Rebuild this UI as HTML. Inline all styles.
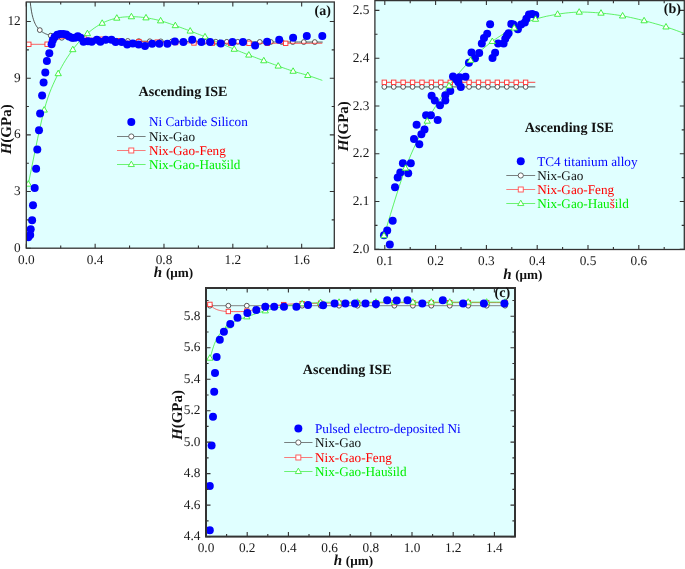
<!DOCTYPE html><html><head><meta charset="utf-8"><style>
html,body{margin:0;padding:0;background:#fff;width:685px;height:569px;overflow:hidden}
svg{display:block;-webkit-font-smoothing:antialiased;will-change:transform}
text{text-rendering:geometricPrecision}
text{font-family:'Liberation Serif', serif}
.tl{font-size:13.3px;fill:#1a1a1a}
.lg{font-size:13.2px}
.ti{font-size:14.1px;font-weight:bold;fill:#111}
.ax{font-size:15px;font-weight:bold;fill:#111}
</style></head><body>
<svg width="685" height="569" viewBox="0 0 685 569">
<defs>
<clipPath id="clipa"><rect x="26.3" y="2" width="308" height="246.2"/></clipPath>
<clipPath id="clipb"><rect x="374.9" y="0.6" width="309.4" height="248.9"/></clipPath>
<clipPath id="clipc"><rect x="206" y="288" width="309" height="248.6"/></clipPath>
</defs>
<rect x="26.3" y="2" width="308" height="246.2" fill="#E0FFFF"/>
<g clip-path="url(#clipa)">
<polyline points="29.4,-7.67 30.09,0.72 30.77,6.7 31.46,11.18 32.15,14.66 32.84,17.45 33.53,19.73 34.22,21.64 34.91,23.25 35.59,24.63 36.28,25.83 36.97,26.88 37.66,27.8 38.35,28.62 39.04,29.36 39.72,30.02 40.41,30.62 41.1,31.17 41.79,31.67 42.48,32.12 43.17,32.55 43.85,32.93 44.54,33.29 45.23,33.63 45.92,33.94 46.61,34.23 47.3,34.5 47.98,34.76 48.67,34.99 49.36,35.22 50.05,35.43 50.74,35.63 51.43,35.82 52.12,36 52.8,36.17 53.49,36.34 54.18,36.49 54.87,36.64 55.56,36.78 56.25,36.91 56.93,37.04 57.62,37.16 58.31,37.28 59,37.39 59.69,37.5 60.38,37.6 61.06,37.7 64.51,38.14 67.95,38.52 71.39,38.83 74.83,39.1 78.27,39.34 81.72,39.54 85.16,39.72 88.6,39.89 92.04,40.03 95.48,40.16 98.93,40.28 102.37,40.39 105.81,40.49 109.25,40.58 112.69,40.66 116.14,40.74 119.58,40.81 123.02,40.87 126.46,40.94 129.9,40.99 133.35,41.05 136.79,41.1 140.23,41.15 143.67,41.19 147.11,41.23 150.56,41.27 154,41.31 157.44,41.35 160.88,41.38 164.32,41.41 167.77,41.44 171.21,41.47 174.65,41.5 178.09,41.53 181.53,41.55 184.98,41.58 188.42,41.6 191.86,41.62 195.3,41.64 198.74,41.66 202.19,41.68 205.63,41.7 209.07,41.72 212.51,41.74 215.95,41.76 219.4,41.77 222.84,41.79 226.28,41.8 229.72,41.82 233.16,41.83 236.61,41.85 240.05,41.86 243.49,41.87 246.93,41.88 250.37,41.9 253.82,41.91 257.26,41.92 260.7,41.93 264.14,41.94 267.58,41.95 271.03,41.96 274.47,41.97 277.91,41.98 281.35,41.99 284.79,42 288.24,42.01 291.68,42.02 295.12,42.03 298.56,42.03 302,42.04 305.45,42.05 308.89,42.06 312.33,42.07 315.77,42.07 319.21,42.08 322.66,42.09" fill="none" stroke="#444" stroke-width="0.9"/>
<circle cx="39.8" cy="30.09" r="2.4" fill="#fff" stroke="#444" stroke-width="0.9"/>
<circle cx="50.8" cy="35.65" r="2.4" fill="#fff" stroke="#444" stroke-width="0.9"/>
<circle cx="61.8" cy="37.8" r="2.4" fill="#fff" stroke="#444" stroke-width="0.9"/>
<circle cx="72.8" cy="38.95" r="2.4" fill="#fff" stroke="#444" stroke-width="0.9"/>
<circle cx="83.8" cy="39.65" r="2.4" fill="#fff" stroke="#444" stroke-width="0.9"/>
<circle cx="94.8" cy="40.14" r="2.4" fill="#fff" stroke="#444" stroke-width="0.9"/>
<circle cx="105.8" cy="40.49" r="2.4" fill="#fff" stroke="#444" stroke-width="0.9"/>
<circle cx="116.8" cy="40.75" r="2.4" fill="#fff" stroke="#444" stroke-width="0.9"/>
<circle cx="127.8" cy="40.96" r="2.4" fill="#fff" stroke="#444" stroke-width="0.9"/>
<circle cx="138.8" cy="41.13" r="2.4" fill="#fff" stroke="#444" stroke-width="0.9"/>
<circle cx="149.8" cy="41.26" r="2.4" fill="#fff" stroke="#444" stroke-width="0.9"/>
<circle cx="160.8" cy="41.38" r="2.4" fill="#fff" stroke="#444" stroke-width="0.9"/>
<circle cx="171.8" cy="41.48" r="2.4" fill="#fff" stroke="#444" stroke-width="0.9"/>
<circle cx="182.8" cy="41.56" r="2.4" fill="#fff" stroke="#444" stroke-width="0.9"/>
<circle cx="193.8" cy="41.63" r="2.4" fill="#fff" stroke="#444" stroke-width="0.9"/>
<circle cx="204.8" cy="41.7" r="2.4" fill="#fff" stroke="#444" stroke-width="0.9"/>
<circle cx="215.8" cy="41.75" r="2.4" fill="#fff" stroke="#444" stroke-width="0.9"/>
<circle cx="226.8" cy="41.81" r="2.4" fill="#fff" stroke="#444" stroke-width="0.9"/>
<circle cx="237.8" cy="41.85" r="2.4" fill="#fff" stroke="#444" stroke-width="0.9"/>
<circle cx="248.8" cy="41.89" r="2.4" fill="#fff" stroke="#444" stroke-width="0.9"/>
<circle cx="259.8" cy="41.93" r="2.4" fill="#fff" stroke="#444" stroke-width="0.9"/>
<circle cx="270.8" cy="41.96" r="2.4" fill="#fff" stroke="#444" stroke-width="0.9"/>
<circle cx="281.8" cy="41.99" r="2.4" fill="#fff" stroke="#444" stroke-width="0.9"/>
<circle cx="292.8" cy="42.02" r="2.4" fill="#fff" stroke="#444" stroke-width="0.9"/>
<circle cx="303.8" cy="42.05" r="2.4" fill="#fff" stroke="#444" stroke-width="0.9"/>
<circle cx="314.8" cy="42.07" r="2.4" fill="#fff" stroke="#444" stroke-width="0.9"/>
<polyline points="28.8,44.3 46.9,44.3 46.9,44.3 47.33,44.15 47.91,43.96 48.59,43.73 49.36,43.47 50.16,43.19 50.98,42.9 51.77,42.6 52.5,42.3 53.19,41.99 53.88,41.64 54.57,41.27 55.26,40.9 55.94,40.53 56.63,40.19 57.31,39.87 58,39.6 58.65,39.38 59.23,39.19 59.8,39.02 60.38,38.88 61,38.75 61.7,38.64 62.53,38.52 63.5,38.4 64.65,38.27 65.96,38.15 67.4,38.03 68.91,37.92 70.46,37.82 72.02,37.73 73.55,37.65 75,37.6 76.38,37.56 77.71,37.53 79.03,37.52 80.34,37.52 81.68,37.54 83.05,37.57 84.48,37.62 86,37.7 87.6,37.8 89.27,37.94 90.99,38.1 92.75,38.27 94.54,38.45 96.36,38.64 98.18,38.82 100,39 101.83,39.17 103.68,39.35 105.55,39.54 107.44,39.72 109.33,39.91 111.23,40.08 113.12,40.25 115,40.4 116.88,40.54 118.75,40.67 120.62,40.79 122.5,40.91 124.38,41.01 126.25,41.11 128.12,41.21 130,41.3 131.88,41.38 133.75,41.46 135.62,41.52 137.5,41.58 139.38,41.64 141.25,41.69 143.12,41.75 145,41.8 146.77,41.85 148.4,41.9 149.97,41.94 151.56,41.99 153.28,42.03 155.2,42.08 157.41,42.14 160,42.2 163.03,42.28 166.45,42.36 170.15,42.46 174.06,42.56 178.09,42.65 182.15,42.75 186.15,42.83 190,42.9 193.68,42.96 197.27,43.01 200.81,43.05 204.38,43.09 208.02,43.12 211.8,43.15 215.77,43.17 220,43.2 224.37,43.22 228.77,43.24 233.29,43.26 237.98,43.27 242.93,43.28 248.2,43.29 253.86,43.29 260,43.3 267.15,43.3 275.47,43.31 284.47,43.31 293.65,43.31 302.52,43.3 310.58,43.3 317.34,43.3 322.3,43.3" fill="none" stroke="#FF3030" stroke-width="0.75"/>
<rect x="26.6" y="42.1" width="4.4" height="4.4" fill="#fff" stroke="#FF3030" stroke-width="0.9"/>
<rect x="44.95" y="42.01" width="4.4" height="4.4" fill="#fff" stroke="#FF3030" stroke-width="0.9"/>
<rect x="81.65" y="35.4" width="4.4" height="4.4" fill="#fff" stroke="#FF3030" stroke-width="0.9"/>
<rect x="100" y="37.01" width="4.4" height="4.4" fill="#fff" stroke="#FF3030" stroke-width="0.9"/>
<rect x="118.35" y="38.59" width="4.4" height="4.4" fill="#fff" stroke="#FF3030" stroke-width="0.9"/>
<rect x="136.7" y="39.42" width="4.4" height="4.4" fill="#fff" stroke="#FF3030" stroke-width="0.9"/>
<rect x="155.05" y="39.93" width="4.4" height="4.4" fill="#fff" stroke="#FF3030" stroke-width="0.9"/>
<rect x="173.4" y="40.39" width="4.4" height="4.4" fill="#fff" stroke="#FF3030" stroke-width="0.9"/>
<rect x="191.75" y="40.76" width="4.4" height="4.4" fill="#fff" stroke="#FF3030" stroke-width="0.9"/>
<rect x="210.1" y="40.95" width="4.4" height="4.4" fill="#fff" stroke="#FF3030" stroke-width="0.9"/>
<rect x="228.45" y="41.05" width="4.4" height="4.4" fill="#fff" stroke="#FF3030" stroke-width="0.9"/>
<rect x="246.8" y="41.09" width="4.4" height="4.4" fill="#fff" stroke="#FF3030" stroke-width="0.9"/>
<rect x="265.15" y="41.1" width="4.4" height="4.4" fill="#fff" stroke="#FF3030" stroke-width="0.9"/>
<rect x="283.5" y="41.11" width="4.4" height="4.4" fill="#fff" stroke="#FF3030" stroke-width="0.9"/>
<polyline points="28.3,184.1 29.54,178.13 31.2,169.9 33.18,160.08 35.38,149.32 37.68,138.28 39.99,127.61 42.19,117.97 44.2,110 46.04,103.56 47.82,97.96 49.56,93.04 51.28,88.67 52.99,84.69 54.7,80.94 56.43,77.3 58.2,73.6 60,69.95 61.81,66.54 63.63,63.34 65.46,60.32 67.3,57.47 69.14,54.75 70.97,52.13 72.8,49.6 74.62,47.18 76.45,44.91 78.27,42.77 80.09,40.75 81.91,38.84 83.74,37.02 85.57,35.28 87.4,33.6 89.24,32 91.09,30.48 92.94,29.06 94.8,27.72 96.66,26.47 98.51,25.3 100.36,24.21 102.2,23.2 104.03,22.28 105.86,21.47 107.69,20.74 109.51,20.09 111.33,19.51 113.15,18.99 114.98,18.52 116.8,18.1 118.62,17.73 120.45,17.43 122.27,17.19 124.1,17.01 125.92,16.88 127.75,16.79 129.57,16.73 131.4,16.7 133.22,16.7 135.05,16.75 136.88,16.85 138.7,16.97 140.53,17.14 142.35,17.33 144.18,17.55 146,17.8 147.82,18.07 149.65,18.37 151.47,18.71 153.29,19.07 155.12,19.46 156.94,19.88 158.77,20.33 160.6,20.8 162.43,21.31 164.26,21.86 166.1,22.44 167.93,23.05 169.77,23.68 171.61,24.32 173.45,24.96 175.3,25.6 177.15,26.24 179.01,26.9 180.88,27.56 182.74,28.24 184.61,28.92 186.48,29.61 188.34,30.3 190.2,31 192.06,31.7 193.91,32.41 195.77,33.13 197.62,33.85 199.47,34.58 201.32,35.31 203.16,36.05 205,36.8 206.83,37.56 208.66,38.32 210.49,39.1 212.31,39.88 214.13,40.66 215.95,41.44 217.78,42.22 219.6,43 221.42,43.78 223.25,44.56 225.07,45.34 226.9,46.13 228.72,46.9 230.55,47.68 232.38,48.44 234.2,49.2 236.02,49.94 237.84,50.68 239.66,51.41 241.47,52.13 243.3,52.85 245.12,53.57 246.96,54.28 248.8,55 250.66,55.72 252.54,56.44 254.42,57.16 256.31,57.88 258.2,58.6 260.08,59.31 261.95,60.01 263.8,60.7 265.63,61.38 267.43,62.06 269.22,62.72 271.01,63.38 272.79,64.04 274.58,64.69 276.38,65.35 278.2,66 280.04,66.66 281.89,67.33 283.76,68 285.63,68.67 287.51,69.33 289.38,69.97 291.24,70.6 293.1,71.2 294.95,71.77 296.79,72.3 298.64,72.81 300.48,73.31 302.31,73.81 304.14,74.32 305.97,74.84 307.8,75.4 309.72,76.02 311.78,76.71 313.89,77.44 315.97,78.16 317.93,78.86 319.7,79.48 321.18,80.01 322.3,80.4" fill="none" stroke="#33EE33" stroke-width="0.75"/>
<path d="M28.3 180.7L31.45 186.18L25.15 186.18Z" fill="#fff" stroke="#33EE33" stroke-width="0.9"/>
<path d="M44.2 106.6L47.35 112.08L41.05 112.08Z" fill="#fff" stroke="#33EE33" stroke-width="0.9"/>
<path d="M58.2 70.2L61.35 75.68L55.05 75.68Z" fill="#fff" stroke="#33EE33" stroke-width="0.9"/>
<path d="M72.8 46.2L75.95 51.68L69.65 51.68Z" fill="#fff" stroke="#33EE33" stroke-width="0.9"/>
<path d="M87.4 30.2L90.55 35.68L84.25 35.68Z" fill="#fff" stroke="#33EE33" stroke-width="0.9"/>
<path d="M102.2 19.8L105.35 25.28L99.05 25.28Z" fill="#fff" stroke="#33EE33" stroke-width="0.9"/>
<path d="M116.8 14.7L119.95 20.18L113.65 20.18Z" fill="#fff" stroke="#33EE33" stroke-width="0.9"/>
<path d="M131.4 13.3L134.55 18.78L128.25 18.78Z" fill="#fff" stroke="#33EE33" stroke-width="0.9"/>
<path d="M146 14.4L149.15 19.88L142.85 19.88Z" fill="#fff" stroke="#33EE33" stroke-width="0.9"/>
<path d="M160.6 17.4L163.75 22.88L157.45 22.88Z" fill="#fff" stroke="#33EE33" stroke-width="0.9"/>
<path d="M175.3 22.2L178.45 27.68L172.15 27.68Z" fill="#fff" stroke="#33EE33" stroke-width="0.9"/>
<path d="M190.2 27.6L193.35 33.08L187.05 33.08Z" fill="#fff" stroke="#33EE33" stroke-width="0.9"/>
<path d="M205 33.4L208.15 38.88L201.85 38.88Z" fill="#fff" stroke="#33EE33" stroke-width="0.9"/>
<path d="M219.6 39.6L222.75 45.08L216.45 45.08Z" fill="#fff" stroke="#33EE33" stroke-width="0.9"/>
<path d="M234.2 45.8L237.35 51.28L231.05 51.28Z" fill="#fff" stroke="#33EE33" stroke-width="0.9"/>
<path d="M248.8 51.6L251.95 57.08L245.65 57.08Z" fill="#fff" stroke="#33EE33" stroke-width="0.9"/>
<path d="M263.8 57.3L266.95 62.78L260.65 62.78Z" fill="#fff" stroke="#33EE33" stroke-width="0.9"/>
<path d="M278.2 62.6L281.35 68.08L275.05 68.08Z" fill="#fff" stroke="#33EE33" stroke-width="0.9"/>
<path d="M293.1 67.8L296.25 73.28L289.95 73.28Z" fill="#fff" stroke="#33EE33" stroke-width="0.9"/>
<path d="M307.8 72L310.95 77.48L304.65 77.48Z" fill="#fff" stroke="#33EE33" stroke-width="0.9"/>
<circle cx="28.3" cy="237.3" r="4.0" fill="#0000FF"/>
<circle cx="30.2" cy="235.1" r="4.0" fill="#0000FF"/>
<circle cx="30.7" cy="229.2" r="4.0" fill="#0000FF"/>
<circle cx="32.1" cy="220.2" r="4.0" fill="#0000FF"/>
<circle cx="33" cy="205.2" r="4.0" fill="#0000FF"/>
<circle cx="34.7" cy="187.9" r="4.0" fill="#0000FF"/>
<circle cx="36.1" cy="168.7" r="4.0" fill="#0000FF"/>
<circle cx="37.3" cy="149.4" r="4.0" fill="#0000FF"/>
<circle cx="39" cy="130.2" r="4.0" fill="#0000FF"/>
<circle cx="40.1" cy="113.4" r="4.0" fill="#0000FF"/>
<circle cx="42.1" cy="95.4" r="4.0" fill="#0000FF"/>
<circle cx="43.6" cy="82.5" r="4.0" fill="#0000FF"/>
<circle cx="45.3" cy="72.6" r="4.0" fill="#0000FF"/>
<circle cx="46.9" cy="61" r="4.0" fill="#0000FF"/>
<circle cx="49.3" cy="53.2" r="4.0" fill="#0000FF"/>
<circle cx="51.6" cy="44.2" r="4.0" fill="#0000FF"/>
<circle cx="52.8" cy="40.3" r="4.0" fill="#0000FF"/>
<circle cx="54.6" cy="37" r="4.0" fill="#0000FF"/>
<circle cx="57.3" cy="34.8" r="4.0" fill="#0000FF"/>
<circle cx="60.2" cy="34" r="4.0" fill="#0000FF"/>
<circle cx="63.2" cy="34" r="4.0" fill="#0000FF"/>
<circle cx="66.2" cy="34.5" r="4.0" fill="#0000FF"/>
<circle cx="69" cy="36.5" r="4.0" fill="#0000FF"/>
<circle cx="72" cy="37.8" r="4.0" fill="#0000FF"/>
<circle cx="75" cy="37.8" r="4.0" fill="#0000FF"/>
<circle cx="77.8" cy="36.3" r="4.0" fill="#0000FF"/>
<circle cx="80.5" cy="37.8" r="4.0" fill="#0000FF"/>
<circle cx="83.5" cy="41.7" r="4.0" fill="#0000FF"/>
<circle cx="88" cy="41.3" r="4.0" fill="#0000FF"/>
<circle cx="91.7" cy="41.7" r="4.0" fill="#0000FF"/>
<circle cx="96.9" cy="39.8" r="4.0" fill="#0000FF"/>
<circle cx="100.4" cy="41.7" r="4.0" fill="#0000FF"/>
<circle cx="105.7" cy="39.8" r="4.0" fill="#0000FF"/>
<circle cx="111.5" cy="39.8" r="4.0" fill="#0000FF"/>
<circle cx="115.6" cy="42" r="4.0" fill="#0000FF"/>
<circle cx="121.8" cy="42" r="4.0" fill="#0000FF"/>
<circle cx="127.2" cy="44.4" r="4.0" fill="#0000FF"/>
<circle cx="132.8" cy="43.6" r="4.0" fill="#0000FF"/>
<circle cx="138.6" cy="44.4" r="4.0" fill="#0000FF"/>
<circle cx="145" cy="46" r="4.0" fill="#0000FF"/>
<circle cx="152.1" cy="43.8" r="4.0" fill="#0000FF"/>
<circle cx="159.3" cy="43.8" r="4.0" fill="#0000FF"/>
<circle cx="167.4" cy="43.8" r="4.0" fill="#0000FF"/>
<circle cx="174.9" cy="41.5" r="4.0" fill="#0000FF"/>
<circle cx="183.4" cy="41.9" r="4.0" fill="#0000FF"/>
<circle cx="192.2" cy="39.7" r="4.0" fill="#0000FF"/>
<circle cx="201.4" cy="41.9" r="4.0" fill="#0000FF"/>
<circle cx="210.1" cy="41.9" r="4.0" fill="#0000FF"/>
<circle cx="220.8" cy="43.6" r="4.0" fill="#0000FF"/>
<circle cx="232.5" cy="41.9" r="4.0" fill="#0000FF"/>
<circle cx="243" cy="41.9" r="4.0" fill="#0000FF"/>
<circle cx="255.1" cy="45.5" r="4.0" fill="#0000FF"/>
<circle cx="267.1" cy="41.7" r="4.0" fill="#0000FF"/>
<circle cx="279.2" cy="39.7" r="4.0" fill="#0000FF"/>
<circle cx="293.1" cy="37.7" r="4.0" fill="#0000FF"/>
<circle cx="306.8" cy="36" r="4.0" fill="#0000FF"/>
<circle cx="322.3" cy="36" r="4.0" fill="#0000FF"/>
</g>
<path d="M26.3 248.2V243.7M26.3 2V6.5M95.14 248.2V243.7M95.14 2V6.5M163.98 248.2V243.7M163.98 2V6.5M232.82 248.2V243.7M232.82 2V6.5M301.66 248.2V243.7M301.66 2V6.5M60.72 248.2V245.6M60.72 2V4.6M129.56 248.2V245.6M129.56 2V4.6M198.4 248.2V245.6M198.4 2V4.6M267.24 248.2V245.6M267.24 2V4.6M26.3 248.2H30.8M334.3 248.2H329.8M26.3 191.53H30.8M334.3 191.53H329.8M26.3 134.86H30.8M334.3 134.86H329.8M26.3 78.19H30.8M334.3 78.19H329.8M26.3 21.52H30.8M334.3 21.52H329.8M26.3 219.86H28.9M334.3 219.86H331.7M26.3 163.19H28.9M334.3 163.19H331.7M26.3 106.52H28.9M334.3 106.52H331.7M26.3 49.85H28.9M334.3 49.85H331.7" stroke="#333" stroke-width="1.1" fill="none"/>
<rect x="26.3" y="2" width="308" height="246.2" fill="none" stroke="#333" stroke-width="1.3"/>
<text x="26.3" y="263.7" text-anchor="middle" class="tl">0.0</text>
<text x="95.14" y="263.7" text-anchor="middle" class="tl">0.4</text>
<text x="163.98" y="263.7" text-anchor="middle" class="tl">0.8</text>
<text x="232.82" y="263.7" text-anchor="middle" class="tl">1.2</text>
<text x="301.66" y="263.7" text-anchor="middle" class="tl">1.6</text>
<text x="20.7" y="251.8" text-anchor="end" class="tl">0</text>
<text x="20.7" y="195.13" text-anchor="end" class="tl">3</text>
<text x="20.7" y="138.46" text-anchor="end" class="tl">6</text>
<text x="20.7" y="81.79" text-anchor="end" class="tl">9</text>
<text x="20.7" y="25.12" text-anchor="end" class="tl">12</text>
<text x="183" y="95.7" text-anchor="middle" class="ti">Ascending ISE</text>
<text x="330.8" y="15.2" text-anchor="end" class="ti" style="font-size:14px">(a)</text>
<circle cx="131.3" cy="121.9" r="4" fill="#0000FF"/>
<text x="148.9" y="126.2" class="lg" fill="#0000FF">Ni Carbide Silicon</text>
<polyline points="117,136.5 145.6,136.5" fill="none" stroke="#555" stroke-width="0.75"/>
<circle cx="131.3" cy="136.5" r="2.6" fill="#fff" stroke="#555" stroke-width="0.9"/>
<text x="148.9" y="140.8" class="lg" fill="#111">Nix-Gao</text>
<polyline points="117,150.5 145.6,150.5" fill="none" stroke="#FF5050" stroke-width="0.75"/>
<rect x="128.8" y="148" width="5.0" height="5.0" fill="#fff" stroke="#FF5050" stroke-width="0.9"/>
<text x="148.9" y="154.8" class="lg" fill="#FF0000">Nix-Gao-Feng</text>
<polyline points="117,164.5 145.6,164.5" fill="none" stroke="#44EE44" stroke-width="0.75"/>
<path d="M131.3 161.16L134.4 166.55L128.2 166.55Z" fill="#fff" stroke="#44EE44" stroke-width="0.9"/>
<text x="148.9" y="168.8" class="lg" fill="#00EE00">Nix-Gao-Haušild</text>
<text transform="translate(11.2,129.3) rotate(-90)" text-anchor="middle" class="ax"><tspan font-style="italic">H</tspan>(GPa)</text>
<text x="173.5" y="276.8" text-anchor="middle" class="ax"><tspan font-style="italic">h</tspan><tspan font-size="13.2px" dx="0.4"> (μm)</tspan></text>
<rect x="374.9" y="0.6" width="309.4" height="248.9" fill="#E0FFFF"/>
<g clip-path="url(#clipb)">
<polyline points="384.3,86.9 535.3,86.9" fill="none" stroke="#444" stroke-width="0.9"/>
<circle cx="384.3" cy="86.9" r="2.4" fill="#fff" stroke="#444" stroke-width="0.9"/>
<circle cx="393.72" cy="86.9" r="2.4" fill="#fff" stroke="#444" stroke-width="0.9"/>
<circle cx="403.14" cy="86.9" r="2.4" fill="#fff" stroke="#444" stroke-width="0.9"/>
<circle cx="412.56" cy="86.9" r="2.4" fill="#fff" stroke="#444" stroke-width="0.9"/>
<circle cx="421.98" cy="86.9" r="2.4" fill="#fff" stroke="#444" stroke-width="0.9"/>
<circle cx="431.4" cy="86.9" r="2.4" fill="#fff" stroke="#444" stroke-width="0.9"/>
<circle cx="440.82" cy="86.9" r="2.4" fill="#fff" stroke="#444" stroke-width="0.9"/>
<circle cx="450.24" cy="86.9" r="2.4" fill="#fff" stroke="#444" stroke-width="0.9"/>
<circle cx="459.66" cy="86.9" r="2.4" fill="#fff" stroke="#444" stroke-width="0.9"/>
<circle cx="469.08" cy="86.9" r="2.4" fill="#fff" stroke="#444" stroke-width="0.9"/>
<circle cx="478.5" cy="86.9" r="2.4" fill="#fff" stroke="#444" stroke-width="0.9"/>
<circle cx="487.92" cy="86.9" r="2.4" fill="#fff" stroke="#444" stroke-width="0.9"/>
<circle cx="497.34" cy="86.9" r="2.4" fill="#fff" stroke="#444" stroke-width="0.9"/>
<circle cx="506.76" cy="86.9" r="2.4" fill="#fff" stroke="#444" stroke-width="0.9"/>
<circle cx="516.18" cy="86.9" r="2.4" fill="#fff" stroke="#444" stroke-width="0.9"/>
<circle cx="525.6" cy="86.9" r="2.4" fill="#fff" stroke="#444" stroke-width="0.9"/>
<polyline points="384.3,82.3 535.3,82.3" fill="none" stroke="#FF3030" stroke-width="0.9"/>
<rect x="382.1" y="80.1" width="4.4" height="4.4" fill="#fff" stroke="#FF3030" stroke-width="0.9"/>
<rect x="391.52" y="80.1" width="4.4" height="4.4" fill="#fff" stroke="#FF3030" stroke-width="0.9"/>
<rect x="400.94" y="80.1" width="4.4" height="4.4" fill="#fff" stroke="#FF3030" stroke-width="0.9"/>
<rect x="410.36" y="80.1" width="4.4" height="4.4" fill="#fff" stroke="#FF3030" stroke-width="0.9"/>
<rect x="419.78" y="80.1" width="4.4" height="4.4" fill="#fff" stroke="#FF3030" stroke-width="0.9"/>
<rect x="429.2" y="80.1" width="4.4" height="4.4" fill="#fff" stroke="#FF3030" stroke-width="0.9"/>
<rect x="438.62" y="80.1" width="4.4" height="4.4" fill="#fff" stroke="#FF3030" stroke-width="0.9"/>
<rect x="448.04" y="80.1" width="4.4" height="4.4" fill="#fff" stroke="#FF3030" stroke-width="0.9"/>
<rect x="457.46" y="80.1" width="4.4" height="4.4" fill="#fff" stroke="#FF3030" stroke-width="0.9"/>
<rect x="466.88" y="80.1" width="4.4" height="4.4" fill="#fff" stroke="#FF3030" stroke-width="0.9"/>
<rect x="476.3" y="80.1" width="4.4" height="4.4" fill="#fff" stroke="#FF3030" stroke-width="0.9"/>
<rect x="485.72" y="80.1" width="4.4" height="4.4" fill="#fff" stroke="#FF3030" stroke-width="0.9"/>
<rect x="495.14" y="80.1" width="4.4" height="4.4" fill="#fff" stroke="#FF3030" stroke-width="0.9"/>
<rect x="504.56" y="80.1" width="4.4" height="4.4" fill="#fff" stroke="#FF3030" stroke-width="0.9"/>
<rect x="513.98" y="80.1" width="4.4" height="4.4" fill="#fff" stroke="#FF3030" stroke-width="0.9"/>
<rect x="523.4" y="80.1" width="4.4" height="4.4" fill="#fff" stroke="#FF3030" stroke-width="0.9"/>
<polyline points="384,235.7 385.66,230.35 387.86,223.09 390.48,214.43 393.39,204.89 396.48,194.98 399.61,185.22 402.66,176.12 405.5,168.2 408.2,161.26 410.91,154.71 413.62,148.52 416.33,142.64 419.05,137 421.76,131.57 424.48,126.28 427.2,121.1 429.92,116.06 432.65,111.22 435.38,106.57 438.11,102.1 440.84,97.8 443.56,93.66 446.28,89.66 449,85.8 451.71,82.1 454.41,78.58 457.11,75.23 459.81,72.02 462.5,68.95 465.2,65.98 467.9,63.1 470.6,60.3 473.31,57.58 476.01,54.98 478.72,52.49 481.43,50.09 484.14,47.79 486.86,45.58 489.58,43.45 492.3,41.4 495.03,39.43 497.77,37.56 500.52,35.77 503.28,34.07 506.02,32.45 508.76,30.9 511.49,29.42 514.2,28 516.89,26.65 519.55,25.39 522.2,24.2 524.84,23.07 527.48,22.02 530.13,21.02 532.8,20.09 535.5,19.2 538.23,18.37 540.98,17.61 543.75,16.92 546.53,16.28 549.31,15.7 552.09,15.16 554.86,14.66 557.6,14.2 560.32,13.78 563.03,13.4 565.73,13.06 568.42,12.77 571.11,12.53 573.8,12.34 576.49,12.19 579.2,12.1 581.92,12.06 584.64,12.09 587.37,12.17 590.1,12.29 592.83,12.46 595.56,12.65 598.28,12.87 601,13.1 603.71,13.35 606.42,13.63 609.12,13.93 611.82,14.26 614.52,14.62 617.21,15.02 619.91,15.44 622.6,15.9 625.29,16.39 627.97,16.93 630.65,17.49 633.33,18.09 636.01,18.71 638.7,19.35 641.39,20.02 644.1,20.7 646.84,21.41 649.63,22.14 652.43,22.9 655.24,23.69 658.02,24.48 660.75,25.29 663.42,26.1 666,26.9 668.6,27.75 671.3,28.68 674,29.64 676.62,30.59 679.07,31.49 681.26,32.3 683.1,32.99 684.5,33.5" fill="none" stroke="#33EE33" stroke-width="0.75"/>
<circle cx="389.8" cy="244.6" r="4.0" fill="#0000FF"/>
<circle cx="384" cy="235.3" r="4.0" fill="#0000FF"/>
<circle cx="387.2" cy="230.4" r="4.0" fill="#0000FF"/>
<circle cx="392.7" cy="220.8" r="4.0" fill="#0000FF"/>
<circle cx="395" cy="187.2" r="4.0" fill="#0000FF"/>
<circle cx="397.7" cy="177.4" r="4.0" fill="#0000FF"/>
<circle cx="400.3" cy="172.6" r="4.0" fill="#0000FF"/>
<circle cx="408.2" cy="173.2" r="4.0" fill="#0000FF"/>
<circle cx="402.9" cy="163.2" r="4.0" fill="#0000FF"/>
<circle cx="410.8" cy="163.2" r="4.0" fill="#0000FF"/>
<circle cx="419.3" cy="144.3" r="4.0" fill="#0000FF"/>
<circle cx="414" cy="139" r="4.0" fill="#0000FF"/>
<circle cx="421.4" cy="134.2" r="4.0" fill="#0000FF"/>
<circle cx="424.5" cy="129.5" r="4.0" fill="#0000FF"/>
<circle cx="416.6" cy="124.8" r="4.0" fill="#0000FF"/>
<circle cx="426.1" cy="115.3" r="4.0" fill="#0000FF"/>
<circle cx="430.9" cy="115.3" r="4.0" fill="#0000FF"/>
<circle cx="437.7" cy="120" r="4.0" fill="#0000FF"/>
<circle cx="431.6" cy="95.8" r="4.0" fill="#0000FF"/>
<circle cx="434.8" cy="100.6" r="4.0" fill="#0000FF"/>
<circle cx="440" cy="105.3" r="4.0" fill="#0000FF"/>
<circle cx="445.3" cy="100.6" r="4.0" fill="#0000FF"/>
<circle cx="445.3" cy="95.3" r="4.0" fill="#0000FF"/>
<circle cx="450.3" cy="91" r="4.0" fill="#0000FF"/>
<circle cx="453" cy="76.6" r="4.0" fill="#0000FF"/>
<circle cx="456.4" cy="79.5" r="4.0" fill="#0000FF"/>
<circle cx="458.3" cy="82.2" r="4.0" fill="#0000FF"/>
<circle cx="460.8" cy="87" r="4.0" fill="#0000FF"/>
<circle cx="465.5" cy="76.8" r="4.0" fill="#0000FF"/>
<circle cx="459.5" cy="77.2" r="4.0" fill="#0000FF"/>
<circle cx="468.9" cy="62.8" r="4.0" fill="#0000FF"/>
<circle cx="471.5" cy="52.6" r="4.0" fill="#0000FF"/>
<circle cx="475" cy="58.2" r="4.0" fill="#0000FF"/>
<circle cx="479.2" cy="52.9" r="4.0" fill="#0000FF"/>
<circle cx="481.8" cy="43.5" r="4.0" fill="#0000FF"/>
<circle cx="484" cy="38.1" r="4.0" fill="#0000FF"/>
<circle cx="487.2" cy="33.8" r="4.0" fill="#0000FF"/>
<circle cx="490.1" cy="24.3" r="4.0" fill="#0000FF"/>
<circle cx="492.5" cy="57.9" r="4.0" fill="#0000FF"/>
<circle cx="495.1" cy="52.8" r="4.0" fill="#0000FF"/>
<circle cx="498.1" cy="43.5" r="4.0" fill="#0000FF"/>
<circle cx="503.6" cy="43.5" r="4.0" fill="#0000FF"/>
<circle cx="505.3" cy="38.7" r="4.0" fill="#0000FF"/>
<circle cx="507" cy="35.6" r="4.0" fill="#0000FF"/>
<circle cx="508.6" cy="33.2" r="4.0" fill="#0000FF"/>
<circle cx="511.3" cy="23.9" r="4.0" fill="#0000FF"/>
<circle cx="513.4" cy="24.6" r="4.0" fill="#0000FF"/>
<circle cx="517.9" cy="29.2" r="4.0" fill="#0000FF"/>
<circle cx="521.1" cy="24.5" r="4.0" fill="#0000FF"/>
<circle cx="524.8" cy="22.4" r="4.0" fill="#0000FF"/>
<circle cx="526.4" cy="18.7" r="4.0" fill="#0000FF"/>
<circle cx="529" cy="14.5" r="4.0" fill="#0000FF"/>
<circle cx="532.2" cy="14" r="4.0" fill="#0000FF"/>
<circle cx="535.3" cy="15" r="4.0" fill="#0000FF"/>
<path d="M384 232.3L387.15 237.78L380.85 237.78Z" fill="#fff" stroke="#33EE33" stroke-width="0.9"/>
<path d="M405.5 164.8L408.65 170.28L402.35 170.28Z" fill="#fff" stroke="#33EE33" stroke-width="0.9"/>
<path d="M427.2 117.7L430.35 123.18L424.05 123.18Z" fill="#fff" stroke="#33EE33" stroke-width="0.9"/>
<path d="M449 82.4L452.15 87.88L445.85 87.88Z" fill="#fff" stroke="#33EE33" stroke-width="0.9"/>
<path d="M470.6 56.9L473.75 62.38L467.45 62.38Z" fill="#fff" stroke="#33EE33" stroke-width="0.9"/>
<path d="M492.3 38L495.45 43.48L489.15 43.48Z" fill="#fff" stroke="#33EE33" stroke-width="0.9"/>
<path d="M514.2 24.6L517.35 30.08L511.05 30.08Z" fill="#fff" stroke="#33EE33" stroke-width="0.9"/>
<path d="M535.5 15.8L538.65 21.28L532.35 21.28Z" fill="#fff" stroke="#33EE33" stroke-width="0.9"/>
<path d="M557.6 10.8L560.75 16.28L554.45 16.28Z" fill="#fff" stroke="#33EE33" stroke-width="0.9"/>
<path d="M579.2 8.7L582.35 14.18L576.05 14.18Z" fill="#fff" stroke="#33EE33" stroke-width="0.9"/>
<path d="M601 9.7L604.15 15.18L597.85 15.18Z" fill="#fff" stroke="#33EE33" stroke-width="0.9"/>
<path d="M622.6 12.5L625.75 17.98L619.45 17.98Z" fill="#fff" stroke="#33EE33" stroke-width="0.9"/>
<path d="M644.1 17.3L647.25 22.78L640.95 22.78Z" fill="#fff" stroke="#33EE33" stroke-width="0.9"/>
<path d="M666 23.5L669.15 28.98L662.85 28.98Z" fill="#fff" stroke="#33EE33" stroke-width="0.9"/>
</g>
<path d="M384.8 249.5V245M384.8 0.6V5.1M435.6 249.5V245M435.6 0.6V5.1M486.4 249.5V245M486.4 0.6V5.1M537.2 249.5V245M537.2 0.6V5.1M588 249.5V245M588 0.6V5.1M638.8 249.5V245M638.8 0.6V5.1M410.2 249.5V246.9M410.2 0.6V3.2M461 249.5V246.9M461 0.6V3.2M511.8 249.5V246.9M511.8 0.6V3.2M562.6 249.5V246.9M562.6 0.6V3.2M613.4 249.5V246.9M613.4 0.6V3.2M664.2 249.5V246.9M664.2 0.6V3.2M374.9 249.3H379.4M684.3 249.3H679.8M374.9 201.52H379.4M684.3 201.52H679.8M374.9 153.74H379.4M684.3 153.74H679.8M374.9 105.96H379.4M684.3 105.96H679.8M374.9 58.18H379.4M684.3 58.18H679.8M374.9 10.4H379.4M684.3 10.4H679.8M374.9 225.41H377.5M684.3 225.41H681.7M374.9 177.63H377.5M684.3 177.63H681.7M374.9 129.85H377.5M684.3 129.85H681.7M374.9 82.07H377.5M684.3 82.07H681.7M374.9 34.29H377.5M684.3 34.29H681.7" stroke="#333" stroke-width="1.1" fill="none"/>
<rect x="374.9" y="0.6" width="309.4" height="248.9" fill="none" stroke="#333" stroke-width="1.3"/>
<text x="384.8" y="265" text-anchor="middle" class="tl">0.1</text>
<text x="435.6" y="265" text-anchor="middle" class="tl">0.2</text>
<text x="486.4" y="265" text-anchor="middle" class="tl">0.3</text>
<text x="537.2" y="265" text-anchor="middle" class="tl">0.4</text>
<text x="588" y="265" text-anchor="middle" class="tl">0.5</text>
<text x="638.8" y="265" text-anchor="middle" class="tl">0.6</text>
<text x="369.3" y="252.9" text-anchor="end" class="tl">2.0</text>
<text x="369.3" y="205.12" text-anchor="end" class="tl">2.1</text>
<text x="369.3" y="157.34" text-anchor="end" class="tl">2.2</text>
<text x="369.3" y="109.56" text-anchor="end" class="tl">2.3</text>
<text x="369.3" y="61.78" text-anchor="end" class="tl">2.4</text>
<text x="369.3" y="14" text-anchor="end" class="tl">2.5</text>
<text x="569.3" y="132.3" text-anchor="middle" class="ti">Ascending ISE</text>
<text x="681" y="13" text-anchor="end" class="ti">(b)</text>
<circle cx="520.75" cy="161.2" r="4" fill="#0000FF"/>
<text x="537.2" y="165.5" class="lg" fill="#0000FF">TC4 titanium alloy</text>
<polyline points="506.3,175.5 535.2,175.5" fill="none" stroke="#555" stroke-width="0.75"/>
<circle cx="520.75" cy="175.5" r="2.6" fill="#fff" stroke="#555" stroke-width="0.9"/>
<text x="537.2" y="179.8" class="lg" fill="#111">Nix-Gao</text>
<polyline points="506.3,189.5 535.2,189.5" fill="none" stroke="#FF5050" stroke-width="0.75"/>
<rect x="518.25" y="187" width="5.0" height="5.0" fill="#fff" stroke="#FF5050" stroke-width="0.9"/>
<text x="537.2" y="193.8" class="lg" fill="#FF0000">Nix-Gao-Feng</text>
<polyline points="506.3,203.5 535.2,203.5" fill="none" stroke="#44EE44" stroke-width="0.75"/>
<path d="M520.75 200.16L523.85 205.55L517.65 205.55Z" fill="#fff" stroke="#44EE44" stroke-width="0.9"/>
<text x="537.2" y="207.8" class="lg" fill="#00EE00">Nix-Gao-Hau<tspan fill="#FF0000">š</tspan>ild</text>
<text transform="translate(348.3,126.2) rotate(-90)" text-anchor="middle" class="ax"><tspan font-style="italic">H</tspan>(GPa)</text>
<text x="522.8" y="278.5" text-anchor="middle" class="ax"><tspan font-style="italic">h</tspan><tspan font-size="13.2px" dx="0.4"> (μm)</tspan></text>
<rect x="206" y="288" width="309" height="248.6" fill="#E0FFFF"/>
<g clip-path="url(#clipc)">
<polyline points="209.9,305.7 504.8,305.7" fill="none" stroke="#777" stroke-width="0.9"/>
<circle cx="209.9" cy="305.7" r="2.4" fill="#fff" stroke="#444" stroke-width="0.9"/>
<circle cx="228.35" cy="305.7" r="2.4" fill="#fff" stroke="#444" stroke-width="0.9"/>
<circle cx="246.8" cy="305.7" r="2.4" fill="#fff" stroke="#444" stroke-width="0.9"/>
<circle cx="265.25" cy="305.7" r="2.4" fill="#fff" stroke="#444" stroke-width="0.9"/>
<circle cx="283.7" cy="305.7" r="2.4" fill="#fff" stroke="#444" stroke-width="0.9"/>
<circle cx="302.15" cy="305.7" r="2.4" fill="#fff" stroke="#444" stroke-width="0.9"/>
<circle cx="320.6" cy="305.7" r="2.4" fill="#fff" stroke="#444" stroke-width="0.9"/>
<circle cx="339.05" cy="305.7" r="2.4" fill="#fff" stroke="#444" stroke-width="0.9"/>
<circle cx="357.5" cy="305.7" r="2.4" fill="#fff" stroke="#444" stroke-width="0.9"/>
<circle cx="375.95" cy="305.7" r="2.4" fill="#fff" stroke="#444" stroke-width="0.9"/>
<circle cx="394.4" cy="305.7" r="2.4" fill="#fff" stroke="#444" stroke-width="0.9"/>
<circle cx="412.85" cy="305.7" r="2.4" fill="#fff" stroke="#444" stroke-width="0.9"/>
<circle cx="431.3" cy="305.7" r="2.4" fill="#fff" stroke="#444" stroke-width="0.9"/>
<circle cx="449.75" cy="305.7" r="2.4" fill="#fff" stroke="#444" stroke-width="0.9"/>
<circle cx="468.2" cy="305.7" r="2.4" fill="#fff" stroke="#444" stroke-width="0.9"/>
<circle cx="486.65" cy="305.7" r="2.4" fill="#fff" stroke="#444" stroke-width="0.9"/>
<circle cx="505.1" cy="305.7" r="2.4" fill="#fff" stroke="#444" stroke-width="0.9"/>
<polyline points="210.1,304.4 210.32,304.65 210.6,304.98 210.93,305.38 211.3,305.82 211.7,306.27 212.13,306.72 212.57,307.14 213,307.5 213.44,307.82 213.9,308.11 214.38,308.4 214.87,308.66 215.38,308.92 215.9,309.15 216.44,309.38 217,309.6 217.57,309.81 218.14,310 218.74,310.18 219.34,310.34 219.97,310.5 220.62,310.64 221.3,310.78 222,310.9 222.68,311.01 223.31,311.12 223.93,311.21 224.59,311.29 225.34,311.36 226.21,311.42 227.25,311.46 228.5,311.5 230.03,311.53 231.82,311.57 233.81,311.6 235.91,311.62 238.05,311.61 240.16,311.58 242.17,311.51 244,311.4 245.67,311.24 247.25,311.03 248.76,310.79 250.22,310.52 251.65,310.23 253.08,309.92 254.52,309.61 256,309.3 257.47,308.98 258.88,308.63 260.28,308.27 261.69,307.89 263.13,307.52 264.65,307.16 266.26,306.82 268,306.5 269.9,306.2 271.95,305.92 274.1,305.64 276.31,305.38 278.55,305.13 280.77,304.9 282.94,304.69 285,304.5 286.8,304.34 288.3,304.21 289.67,304.11 291.06,304.02 292.63,303.94 294.54,303.86 296.94,303.79 300,303.7 303.67,303.6 307.77,303.51 312.29,303.41 317.19,303.32 322.44,303.23 328.01,303.14 333.87,303.07 340,303 346.24,302.94 352.54,302.89 359.07,302.85 365.95,302.81 373.34,302.78 381.38,302.75 390.22,302.73 400,302.7 411.67,302.68 425.51,302.66 440.62,302.64 456.15,302.63 471.21,302.62 484.92,302.61 496.41,302.61 504.8,302.6" fill="none" stroke="#FF3030" stroke-width="0.75"/>
<rect x="207.7" y="302.2" width="4.4" height="4.4" fill="#fff" stroke="#FF3030" stroke-width="0.9"/>
<rect x="226.15" y="309.3" width="4.4" height="4.4" fill="#fff" stroke="#FF3030" stroke-width="0.9"/>
<rect x="244.6" y="308.89" width="4.4" height="4.4" fill="#fff" stroke="#FF3030" stroke-width="0.9"/>
<rect x="263.05" y="304.83" width="4.4" height="4.4" fill="#fff" stroke="#FF3030" stroke-width="0.9"/>
<rect x="281.5" y="302.42" width="4.4" height="4.4" fill="#fff" stroke="#FF3030" stroke-width="0.9"/>
<rect x="299.95" y="301.44" width="4.4" height="4.4" fill="#fff" stroke="#FF3030" stroke-width="0.9"/>
<rect x="318.4" y="301.06" width="4.4" height="4.4" fill="#fff" stroke="#FF3030" stroke-width="0.9"/>
<rect x="336.85" y="300.81" width="4.4" height="4.4" fill="#fff" stroke="#FF3030" stroke-width="0.9"/>
<rect x="355.3" y="300.66" width="4.4" height="4.4" fill="#fff" stroke="#FF3030" stroke-width="0.9"/>
<rect x="373.75" y="300.57" width="4.4" height="4.4" fill="#fff" stroke="#FF3030" stroke-width="0.9"/>
<rect x="392.2" y="300.51" width="4.4" height="4.4" fill="#fff" stroke="#FF3030" stroke-width="0.9"/>
<rect x="410.65" y="300.48" width="4.4" height="4.4" fill="#fff" stroke="#FF3030" stroke-width="0.9"/>
<rect x="429.1" y="300.45" width="4.4" height="4.4" fill="#fff" stroke="#FF3030" stroke-width="0.9"/>
<rect x="447.55" y="300.44" width="4.4" height="4.4" fill="#fff" stroke="#FF3030" stroke-width="0.9"/>
<rect x="466" y="300.42" width="4.4" height="4.4" fill="#fff" stroke="#FF3030" stroke-width="0.9"/>
<rect x="484.45" y="300.41" width="4.4" height="4.4" fill="#fff" stroke="#FF3030" stroke-width="0.9"/>
<rect x="502.9" y="300.4" width="4.4" height="4.4" fill="#fff" stroke="#FF3030" stroke-width="0.9"/>
<polyline points="210.1,358.1 210.41,357.03 210.82,355.58 211.31,353.85 211.85,351.95 212.43,349.97 213.03,348.02 213.63,346.19 214.2,344.6 214.75,343.2 215.29,341.88 215.83,340.63 216.39,339.44 216.97,338.29 217.59,337.18 218.27,336.08 219,335 219.8,333.94 220.65,332.91 221.54,331.91 222.47,330.94 223.44,330 224.44,329.08 225.46,328.18 226.5,327.3 227.55,326.43 228.62,325.58 229.72,324.75 230.84,323.94 231.99,323.16 233.18,322.41 234.42,321.69 235.7,321 237,320.37 238.3,319.8 239.63,319.27 241.01,318.77 242.45,318.27 243.98,317.75 245.62,317.2 247.4,316.6 249.34,315.93 251.42,315.21 253.63,314.46 255.92,313.69 258.26,312.93 260.63,312.18 262.99,311.46 265.3,310.8 267.6,310.18 269.92,309.58 272.26,309.01 274.61,308.46 276.96,307.93 279.3,307.43 281.61,306.95 283.9,306.5 286.15,306.08 288.37,305.68 290.56,305.3 292.75,304.96 294.94,304.63 297.13,304.33 299.35,304.05 301.6,303.8 303.88,303.57 306.18,303.38 308.5,303.2 310.83,303.06 313.17,302.93 315.51,302.81 317.86,302.7 320.2,302.6 321.54,302.51 321.44,302.44 320.78,302.38 320.4,302.33 321.17,302.29 323.96,302.26 329.61,302.23 339,302.2 353.82,302.17 374,302.15 397.69,302.14 423.07,302.12 448.31,302.12 471.56,302.11 491,302.11 504.8,302.1" fill="none" stroke="#33EE33" stroke-width="0.75"/>
<path d="M209.9 354.7L213.05 360.18L206.75 360.18Z" fill="#fff" stroke="#33EE33" stroke-width="0.9"/>
<path d="M228.35 322.4L231.5 327.88L225.2 327.88Z" fill="#fff" stroke="#33EE33" stroke-width="0.9"/>
<path d="M246.8 313.41L249.95 318.89L243.65 318.89Z" fill="#fff" stroke="#33EE33" stroke-width="0.9"/>
<path d="M265.25 307.42L268.4 312.9L262.1 312.9Z" fill="#fff" stroke="#33EE33" stroke-width="0.9"/>
<path d="M283.7 303.14L286.85 308.62L280.55 308.62Z" fill="#fff" stroke="#33EE33" stroke-width="0.9"/>
<path d="M302.15 300.35L305.3 305.83L299 305.83Z" fill="#fff" stroke="#33EE33" stroke-width="0.9"/>
<path d="M320.6 299.17L323.75 304.66L317.45 304.66Z" fill="#fff" stroke="#33EE33" stroke-width="0.9"/>
<path d="M339.05 298.8L342.2 304.28L335.9 304.28Z" fill="#fff" stroke="#33EE33" stroke-width="0.9"/>
<path d="M357.5 298.77L360.65 304.25L354.35 304.25Z" fill="#fff" stroke="#33EE33" stroke-width="0.9"/>
<path d="M375.95 298.75L379.1 304.23L372.8 304.23Z" fill="#fff" stroke="#33EE33" stroke-width="0.9"/>
<path d="M394.4 298.74L397.55 304.22L391.25 304.22Z" fill="#fff" stroke="#33EE33" stroke-width="0.9"/>
<path d="M412.85 298.73L416 304.21L409.7 304.21Z" fill="#fff" stroke="#33EE33" stroke-width="0.9"/>
<path d="M431.3 298.72L434.45 304.21L428.15 304.21Z" fill="#fff" stroke="#33EE33" stroke-width="0.9"/>
<path d="M449.75 298.72L452.9 304.2L446.6 304.2Z" fill="#fff" stroke="#33EE33" stroke-width="0.9"/>
<path d="M468.2 298.71L471.35 304.19L465.05 304.19Z" fill="#fff" stroke="#33EE33" stroke-width="0.9"/>
<path d="M486.65 298.71L489.8 304.19L483.5 304.19Z" fill="#fff" stroke="#33EE33" stroke-width="0.9"/>
<path d="M505.1 298.7L508.25 304.18L501.95 304.18Z" fill="#fff" stroke="#33EE33" stroke-width="0.9"/>
<circle cx="209.8" cy="530.3" r="4.0" fill="#0000FF"/>
<circle cx="209.8" cy="486.1" r="4.0" fill="#0000FF"/>
<circle cx="211.6" cy="445.5" r="4.0" fill="#0000FF"/>
<circle cx="213" cy="416.7" r="4.0" fill="#0000FF"/>
<circle cx="214.2" cy="391.8" r="4.0" fill="#0000FF"/>
<circle cx="215" cy="372.9" r="4.0" fill="#0000FF"/>
<circle cx="216.6" cy="357.1" r="4.0" fill="#0000FF"/>
<circle cx="219.8" cy="339.7" r="4.0" fill="#0000FF"/>
<circle cx="223.9" cy="331.8" r="4.0" fill="#0000FF"/>
<circle cx="230.3" cy="323.9" r="4.0" fill="#0000FF"/>
<circle cx="237.5" cy="317.7" r="4.0" fill="#0000FF"/>
<circle cx="247.4" cy="312.9" r="4.0" fill="#0000FF"/>
<circle cx="256.3" cy="309.9" r="4.0" fill="#0000FF"/>
<circle cx="265.3" cy="306.7" r="4.0" fill="#0000FF"/>
<circle cx="274.2" cy="306.7" r="4.0" fill="#0000FF"/>
<circle cx="284" cy="306.8" r="4.0" fill="#0000FF"/>
<circle cx="296.4" cy="306.7" r="4.0" fill="#0000FF"/>
<circle cx="308" cy="305.1" r="4.0" fill="#0000FF"/>
<circle cx="323.1" cy="305.3" r="4.0" fill="#0000FF"/>
<circle cx="334.6" cy="303.5" r="4.0" fill="#0000FF"/>
<circle cx="345.4" cy="303.5" r="4.0" fill="#0000FF"/>
<circle cx="355" cy="303.5" r="4.0" fill="#0000FF"/>
<circle cx="365.5" cy="303.5" r="4.0" fill="#0000FF"/>
<circle cx="375.9" cy="304" r="4.0" fill="#0000FF"/>
<circle cx="387.2" cy="300.3" r="4.0" fill="#0000FF"/>
<circle cx="396.7" cy="300.4" r="4.0" fill="#0000FF"/>
<circle cx="407.5" cy="300.2" r="4.0" fill="#0000FF"/>
<circle cx="422.3" cy="303.4" r="4.0" fill="#0000FF"/>
<circle cx="442.8" cy="300.2" r="4.0" fill="#0000FF"/>
<circle cx="463.1" cy="303.4" r="4.0" fill="#0000FF"/>
<circle cx="483.9" cy="303.4" r="4.0" fill="#0000FF"/>
<circle cx="504.4" cy="303.4" r="4.0" fill="#0000FF"/>
</g>
<path d="M206 536.6V532.1M206 288V292.5M247.2 536.6V532.1M247.2 288V292.5M288.4 536.6V532.1M288.4 288V292.5M329.6 536.6V532.1M329.6 288V292.5M370.8 536.6V532.1M370.8 288V292.5M412 536.6V532.1M412 288V292.5M453.2 536.6V532.1M453.2 288V292.5M494.4 536.6V532.1M494.4 288V292.5M226.6 536.6V534M226.6 288V290.6M267.8 536.6V534M267.8 288V290.6M309 536.6V534M309 288V290.6M350.2 536.6V534M350.2 288V290.6M391.4 536.6V534M391.4 288V290.6M432.6 536.6V534M432.6 288V290.6M473.8 536.6V534M473.8 288V290.6M206 536.6H210.5M515 536.6H510.5M206 505.12H210.5M515 505.12H510.5M206 473.64H210.5M515 473.64H510.5M206 442.16H210.5M515 442.16H510.5M206 410.68H210.5M515 410.68H510.5M206 379.2H210.5M515 379.2H510.5M206 347.72H210.5M515 347.72H510.5M206 316.24H210.5M515 316.24H510.5M206 520.86H208.6M515 520.86H512.4M206 489.38H208.6M515 489.38H512.4M206 457.9H208.6M515 457.9H512.4M206 426.42H208.6M515 426.42H512.4M206 394.94H208.6M515 394.94H512.4M206 363.46H208.6M515 363.46H512.4M206 331.98H208.6M515 331.98H512.4M206 300.5H208.6M515 300.5H512.4" stroke="#333" stroke-width="1.1" fill="none"/>
<rect x="206" y="288" width="309" height="248.6" fill="none" stroke="#333" stroke-width="2.0"/>
<text x="206" y="552.1" text-anchor="middle" class="tl">0.0</text>
<text x="247.2" y="552.1" text-anchor="middle" class="tl">0.2</text>
<text x="288.4" y="552.1" text-anchor="middle" class="tl">0.4</text>
<text x="329.6" y="552.1" text-anchor="middle" class="tl">0.6</text>
<text x="370.8" y="552.1" text-anchor="middle" class="tl">0.8</text>
<text x="412" y="552.1" text-anchor="middle" class="tl">1.0</text>
<text x="453.2" y="552.1" text-anchor="middle" class="tl">1.2</text>
<text x="494.4" y="552.1" text-anchor="middle" class="tl">1.4</text>
<text x="200.4" y="540.2" text-anchor="end" class="tl">4.4</text>
<text x="200.4" y="508.72" text-anchor="end" class="tl">4.6</text>
<text x="200.4" y="477.24" text-anchor="end" class="tl">4.8</text>
<text x="200.4" y="445.76" text-anchor="end" class="tl">5.0</text>
<text x="200.4" y="414.28" text-anchor="end" class="tl">5.2</text>
<text x="200.4" y="382.8" text-anchor="end" class="tl">5.4</text>
<text x="200.4" y="351.32" text-anchor="end" class="tl">5.6</text>
<text x="200.4" y="319.84" text-anchor="end" class="tl">5.8</text>
<text x="347.2" y="373.6" text-anchor="middle" class="ti">Ascending ISE</text>
<text x="510.2" y="297" text-anchor="end" class="ti">(c)</text>
<circle cx="298.35" cy="428.4" r="4" fill="#0000FF"/>
<text x="315" y="432.7" class="lg" fill="#0000FF">Pulsed electro-deposited Ni</text>
<polyline points="284.2,442.5 312.5,442.5" fill="none" stroke="#555" stroke-width="0.75"/>
<circle cx="298.35" cy="442.5" r="2.6" fill="#fff" stroke="#555" stroke-width="0.9"/>
<text x="315" y="446.8" class="lg" fill="#111">Nix-Gao</text>
<polyline points="284.2,457.5 312.5,457.5" fill="none" stroke="#FF5050" stroke-width="0.75"/>
<rect x="295.85" y="455" width="5.0" height="5.0" fill="#fff" stroke="#FF5050" stroke-width="0.9"/>
<text x="315" y="461.8" class="lg" fill="#FF0000">Nix-Gao-Feng</text>
<polyline points="284.2,471.5 312.5,471.5" fill="none" stroke="#44EE44" stroke-width="0.75"/>
<path d="M298.35 468.16L301.45 473.55L295.25 473.55Z" fill="#fff" stroke="#44EE44" stroke-width="0.9"/>
<text x="315" y="475.8" class="lg" fill="#00EE00">Nix-Gao-Haušild</text>
<text transform="translate(181.5,415) rotate(-90)" text-anchor="middle" class="ax"><tspan font-style="italic">H</tspan>(GPa)</text>
<text x="353.4" y="564.8" text-anchor="middle" class="ax"><tspan font-style="italic">h</tspan><tspan font-size="13.2px" dx="0.4"> (μm)</tspan></text>
</svg></body></html>
